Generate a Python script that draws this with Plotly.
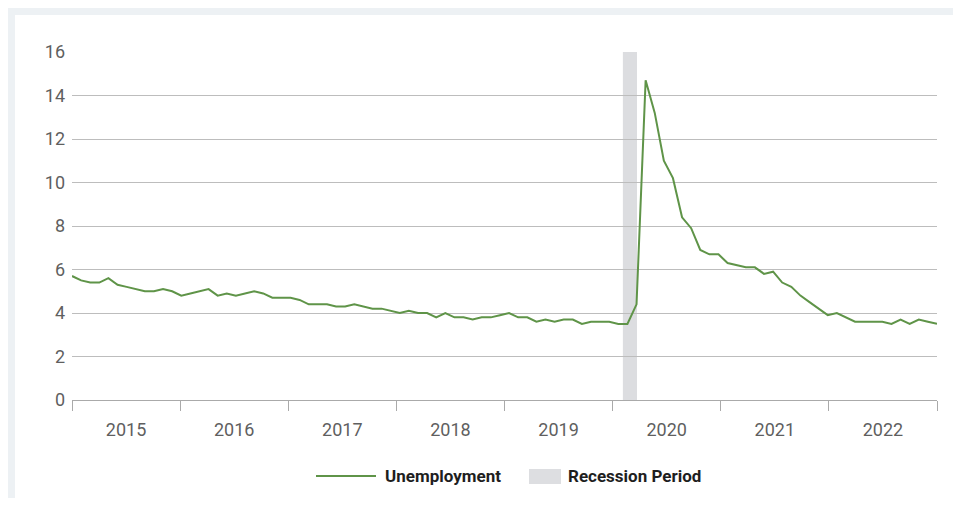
import plotly.graph_objects as go

years = ["2015", "2016", "2017", "2018", "2019", "2020", "2021", "2022"]
unemployment = [
    5.7, 5.5, 5.4, 5.4, 5.6, 5.3, 5.2, 5.1, 5.0, 5.0, 5.1, 5.0,
    4.8, 4.9, 5.0, 5.1, 4.8, 4.9, 4.8, 4.9, 5.0, 4.9, 4.7, 4.7,
    4.7, 4.6, 4.4, 4.4, 4.4, 4.3, 4.3, 4.4, 4.3, 4.2, 4.2, 4.1,
    4.0, 4.1, 4.0, 4.0, 3.8, 4.0, 3.8, 3.8, 3.7, 3.8, 3.8, 3.9,
    4.0, 3.8, 3.8, 3.6, 3.7, 3.6, 3.7, 3.7, 3.5, 3.6, 3.6, 3.6,
    3.5, 3.5, 4.4, 14.7, 13.2, 11.0, 10.2, 8.4, 7.9, 6.9, 6.7, 6.7,
    6.3, 6.2, 6.1, 6.1, 5.8, 5.9, 5.4, 5.2, 4.8, 4.5, 4.2, 3.9,
    4.0, 3.8, 3.6, 3.6, 3.6, 3.6, 3.5, 3.7, 3.5, 3.7, 3.6, 3.5,
]
recession_start = 60.5   # month index (Feb 2020 region)
recession_end = 62.05
y_ticks = [0, 2, 4, 6, 8, 10, 12, 14, 16]

months = list(range(len(unemployment)))
n_last = len(unemployment) - 1
year_span = n_last / len(years)
year_bounds = [i * year_span for i in range(len(years) + 1)]
year_mids = [(i + 0.5) * year_span for i in range(len(years))]

# page draws the figure at an 8px body offset
OFF = 8
W, H = 961 - 2 * OFF, 506 - 2 * OFF
L, T = 72 - OFF, 52 - OFF
R = W - (937 - OFF)
B = H - (400 - OFF)
PW, PH = W - L - R, H - T - B

def px(x):
    """screen pixel x -> paper coordinate"""
    return (x - OFF - L) / PW

def py(y):
    """screen pixel y -> paper coordinate"""
    return (H - B - (y - OFF)) / PH

GREEN = "#5f9448"
FONT = "Roboto, Liberation Sans, sans-serif"
TICK_COLOR = "#5f5f5f"

fig = go.Figure()
fig.add_trace(go.Scatter(
    x=months, y=unemployment, mode="lines",
    line=dict(color=GREEN, width=2), name="Unemployment",
    showlegend=False, hoverinfo="x+y",
))

shapes = [
    # recession band
    dict(type="rect", xref="x", yref="y", x0=recession_start, x1=recession_end,
         y0=0, y1=16, fillcolor="#dcdde0", line_width=0, layer="below"),
    # frame decorations
    dict(type="rect", xref="paper", yref="paper", x0=px(8), x1=px(961), y0=py(8), y1=py(15),
         fillcolor="#edf1f4", line_width=0, layer="below"),
    dict(type="rect", xref="paper", yref="paper", x0=px(8), x1=px(15), y0=py(15), y1=py(498),
         fillcolor="#edf1f4", line_width=0, layer="below"),
    # custom legend
    dict(type="line", xref="paper", yref="paper", x0=px(316), x1=px(376), y0=py(476), y1=py(476),
         line=dict(color=GREEN, width=2)),
    dict(type="rect", xref="paper", yref="paper", x0=px(529), x1=px(561), y0=py(484), y1=py(469),
         fillcolor="#dddee1", line_width=0),
]

annotations = [
    dict(xref="paper", yref="paper", x=px(383), y=py(476), text="<b>Unemployment</b>",
         showarrow=False, xanchor="left", yanchor="middle",
         font=dict(family=FONT, size=17, color="#1e1e1e")),
    dict(xref="paper", yref="paper", x=px(566), y=py(476), text="<b>Recession Period</b>",
         showarrow=False, xanchor="left", yanchor="middle",
         font=dict(family=FONT, size=17, color="#1e1e1e")),
]

fig.update_layout(
    width=W, height=H,
    margin=dict(l=L, r=R, t=T, b=B, pad=0),
    paper_bgcolor="white", plot_bgcolor="white",
    shapes=shapes, annotations=annotations,
    font=dict(family=FONT, size=18, color=TICK_COLOR),
    xaxis=dict(
        range=[0, n_last], showgrid=False, zeroline=False,
        tickmode="array", tickvals=year_mids, ticktext=years,
        ticks="outside", ticklen=13, tickcolor="rgba(0,0,0,0)",
        showline=True, linecolor="#aaaaaa", linewidth=1,
        tickfont=dict(family=FONT, size=18, color=TICK_COLOR),
        minor=dict(tickmode="array", tickvals=year_bounds, ticks="outside",
                   ticklen=10, tickcolor="#aaaaaa", tickwidth=1, showgrid=False),
    ),
    yaxis=dict(
        range=[0, 16], tickmode="array", tickvals=y_ticks,
        showgrid=True, gridcolor="#bdbdbd", gridwidth=1,
        zeroline=False, showline=False, ticks="",
        ticklabelstandoff=6,
        tickfont=dict(family=FONT, size=18, color=TICK_COLOR),
    ),
)

fig.write_html("out.html")
